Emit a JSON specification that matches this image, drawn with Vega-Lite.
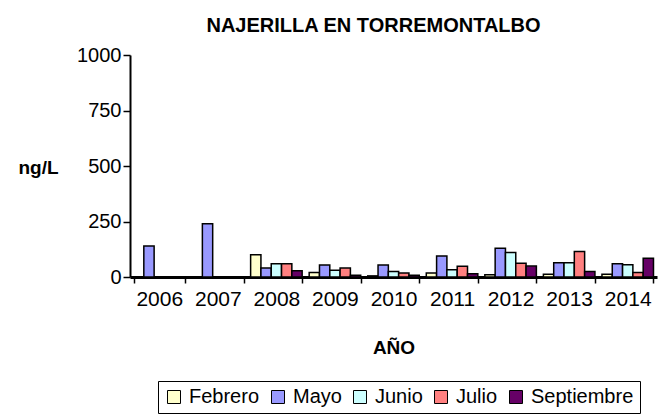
{
  "$schema": "https://vega.github.io/schema/vega-lite/v6.json",
  "width": 527,
  "height": 222,
  "autosize": {"type": "none"},
  "padding": {"left": 130, "top": 55, "right": 2, "bottom": 140},
  "background": "white",
  "title": {"text": "NAJERILLA EN TORREMONTALBO", "font": "Liberation Sans", "fontSize": 20, "fontWeight": "bold", "anchor": "middle", "dx": -20, "offset": 9, "color": "black"},
  "config": {"view": {"stroke": null}, "font": "Liberation Sans"},
  "data": {"values": [
    {"year": "2006", "mes": "Mayo", "v": 140},
    {"year": "2007", "mes": "Mayo", "v": 240},
    {"year": "2008", "mes": "Febrero", "v": 100},
    {"year": "2008", "mes": "Mayo", "v": 40},
    {"year": "2008", "mes": "Junio", "v": 60},
    {"year": "2008", "mes": "Julio", "v": 60},
    {"year": "2008", "mes": "Septiembre", "v": 28},
    {"year": "2009", "mes": "Febrero", "v": 20},
    {"year": "2009", "mes": "Mayo", "v": 54},
    {"year": "2009", "mes": "Junio", "v": 30},
    {"year": "2009", "mes": "Julio", "v": 40},
    {"year": "2009", "mes": "Septiembre", "v": 8},
    {"year": "2010", "mes": "Febrero", "v": 5},
    {"year": "2010", "mes": "Mayo", "v": 54},
    {"year": "2010", "mes": "Junio", "v": 25},
    {"year": "2010", "mes": "Julio", "v": 18},
    {"year": "2010", "mes": "Septiembre", "v": 8},
    {"year": "2011", "mes": "Febrero", "v": 18},
    {"year": "2011", "mes": "Mayo", "v": 95},
    {"year": "2011", "mes": "Junio", "v": 33},
    {"year": "2011", "mes": "Julio", "v": 48},
    {"year": "2011", "mes": "Septiembre", "v": 15},
    {"year": "2012", "mes": "Febrero", "v": 10},
    {"year": "2012", "mes": "Mayo", "v": 130},
    {"year": "2012", "mes": "Junio", "v": 110},
    {"year": "2012", "mes": "Julio", "v": 62},
    {"year": "2012", "mes": "Septiembre", "v": 49},
    {"year": "2013", "mes": "Febrero", "v": 12},
    {"year": "2013", "mes": "Mayo", "v": 64},
    {"year": "2013", "mes": "Junio", "v": 64},
    {"year": "2013", "mes": "Julio", "v": 115},
    {"year": "2013", "mes": "Septiembre", "v": 25},
    {"year": "2014", "mes": "Febrero", "v": 12},
    {"year": "2014", "mes": "Mayo", "v": 60},
    {"year": "2014", "mes": "Junio", "v": 55},
    {"year": "2014", "mes": "Julio", "v": 20},
    {"year": "2014", "mes": "Septiembre", "v": 85}
  ]},
  "mark": {"type": "bar", "stroke": "black", "strokeWidth": 1.5},
  "encoding": {
    "x": {"field": "year", "type": "nominal",
      "scale": {"paddingInner": 0.12, "paddingOuter": 0.06},
      "axis": {"title": "AÑO", "titleFontSize": 19, "titleFontWeight": "bold", "titleColor": "black", "titlePadding": 29,
        "labelAngle": 0, "labelFontSize": 21, "labelColor": "black", "labelPadding": 5,
        "domainColor": "black", "domainWidth": 3, "tickColor": "black", "tickWidth": 1.5, "tickSize": 6, "tickBand": "extent"}},
    "xOffset": {"field": "mes", "type": "nominal", "scale": {"domain": ["Febrero", "Mayo", "Junio", "Julio", "Septiembre"], "paddingInner": 0, "paddingOuter": 0}},
    "y": {"field": "v", "type": "quantitative",
      "scale": {"domain": [0, 1000], "nice": false},
      "axis": {"values": [0, 250, 500, 750, 1000], "format": "d", "grid": false, "title": "ng/L", "titleAngle": 0, "titleX": -92, "titleY": 112,
        "titleAlign": "center", "titleBaseline": "middle", "titleFontSize": 19, "titleFontWeight": "bold", "titleColor": "black",
        "labelFontSize": 20, "labelColor": "black", "labelPadding": 2,
        "domainColor": "black", "domainWidth": 2, "tickColor": "black", "tickSize": 7, "tickWidth": 1.5}},
    "color": {"field": "mes", "type": "nominal",
      "scale": {"domain": ["Febrero", "Mayo", "Junio", "Julio", "Septiembre"], "range": ["#FFFFCC", "#9999FF", "#CCFFFF", "#FF8080", "#660066"]},
      "legend": {"title": null, "orient": "none", "direction": "horizontal", "legendX": 28, "legendY": 326,
        "strokeColor": "black", "padding": 6, "labelFontSize": 20, "labelColor": "black", "symbolType": "square", "symbolSize": 169,
        "symbolStrokeColor": "black", "symbolStrokeWidth": 1, "columnPadding": 8, "labelOffset": 5}}
  }
}
